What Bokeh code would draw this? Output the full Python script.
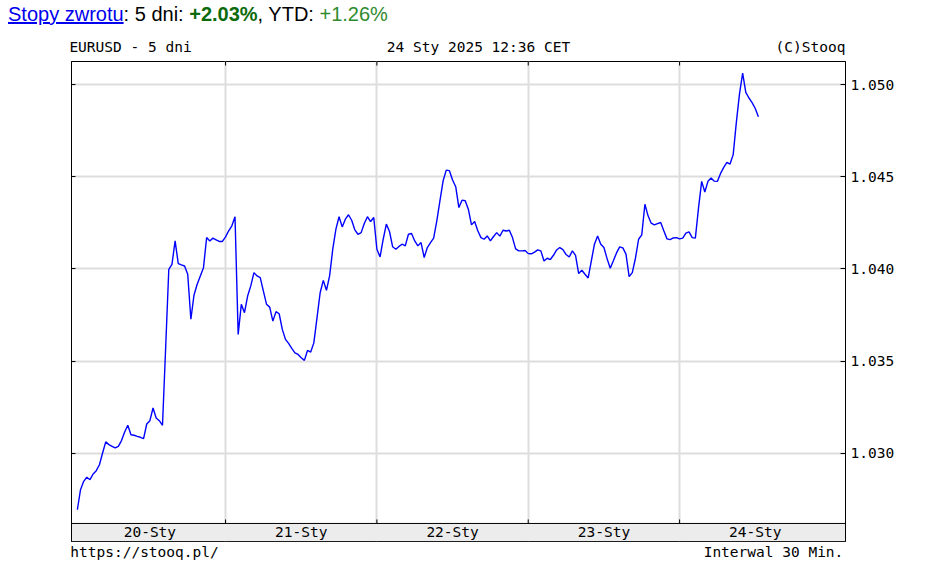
import numpy as np
from bokeh.plotting import figure
from bokeh.layouts import column
from bokeh.models import (Range1d, FixedTicker, LinearAxis, Div,
                          CustomJSTickFormatter, PrintfTickFormatter)
from bokeh.core.properties import value
from bokeh.embed import file_html
from bokeh.resources import INLINE

# ---------------- data ----------------
day_labels = ["20-Sty", "21-Sty", "22-Sty", "23-Sty", "24-Sty"]
day_bounds = [24, 48, 72, 96]          # hours since 20-Sty 00:00
day_centers = [12, 36, 60, 84, 108]
y_ticks = [1.030, 1.035, 1.040, 1.045, 1.050]
top_captions = ["EURUSD - 5 dni", "24 Sty 2025 12:36 CET", "(C)Stooq"]
bottom_captions = ["https://stooq.pl/", "Interwal 30 Min."]

# EURUSD, 30-minute closes, from 20-Sty 00:30 to 24-Sty 12:30
eurusd = [
    1.02694, 1.02803, 1.02848, 1.02870, 1.02857, 1.02888, 1.02906, 1.02938, 1.03002, 1.03062,
    1.03047, 1.03038, 1.03029, 1.03038, 1.03069, 1.03116, 1.03152, 1.03101, 1.03098, 1.03092,
    1.03087, 1.03080, 1.03159, 1.03177, 1.03246, 1.03192, 1.03177, 1.03152, 1.03573, 1.03998,
    1.04025, 1.04152, 1.04029, 1.04022, 1.04016, 1.03971, 1.03727, 1.03859, 1.03917, 1.03962,
    1.04007, 1.04170, 1.04152, 1.04167, 1.04158, 1.04149, 1.04149, 1.04174, 1.04207, 1.04234,
    1.04283, 1.03645, 1.03808, 1.03763, 1.03853, 1.03908, 1.03980, 1.03962, 1.03953,
    1.03880, 1.03808, 1.03793, 1.03717, 1.03768, 1.03757, 1.03672, 1.03618, 1.03596, 1.03569,
    1.03545, 1.03536, 1.03518, 1.03504, 1.03558, 1.03549, 1.03599, 1.03735, 1.03871, 1.03938,
    1.03884, 1.03962, 1.04107, 1.04216, 1.04283, 1.04228, 1.04270, 1.04294, 1.04264, 1.04212,
    1.04188, 1.04197, 1.04246, 1.04283, 1.04257, 1.04279, 1.04107, 1.04065, 1.04161, 1.04243,
    1.04203, 1.04120, 1.04107, 1.04122, 1.04134, 1.04125, 1.04188, 1.04192, 1.04152, 1.04125,
    1.04143, 1.04062, 1.04116, 1.04143, 1.04167, 1.04261, 1.04370, 1.04478, 1.04536, 1.04533,
    1.04482, 1.04446, 1.04333, 1.04373, 1.04370, 1.04324, 1.04239, 1.04257, 1.04207, 1.04170,
    1.04161, 1.04179, 1.04152, 1.04176, 1.04197, 1.04178, 1.04210, 1.04206, 1.04210, 1.04170,
    1.04109, 1.04098, 1.04098, 1.04100, 1.04083, 1.04082, 1.04091, 1.04103, 1.04098, 1.04043,
    1.04058, 1.04051, 1.04074, 1.04103, 1.04116, 1.04105, 1.04078, 1.04065, 1.04098, 1.04074,
    1.03975, 1.03993, 1.03971, 1.03951, 1.04043, 1.04134, 1.04178, 1.04134, 1.04116, 1.04056,
    1.04004, 1.04044, 1.04087, 1.04120, 1.04114, 1.04080, 1.03958, 1.03980, 1.04058, 1.04161,
    1.04185, 1.04351, 1.04288, 1.04248, 1.04239, 1.04246, 1.04252, 1.04207, 1.04163, 1.04159,
    1.04168, 1.04170, 1.04163, 1.04167, 1.04194, 1.04201, 1.04170, 1.04167,
    1.04330, 1.04475, 1.04417, 1.04475, 1.04493, 1.04476, 1.04475, 1.04518, 1.04551, 1.04578,
    1.04569, 1.04620, 1.04795, 1.04949, 1.05062, 1.04958, 1.04927, 1.04902, 1.04870, 1.04826,
]
hours = (np.arange(len(eurusd)) + 1) * 0.5

# ---------------- layout constants ----------------
FONT = "DejaVu Sans Mono"
FS = "14.5px"
X0, X1 = -0.43, 122.31
FRAME_W = 774
PX_PER_HOUR = FRAME_W / (X1 - X0)
PX_PER_UNIT = 18400.0            # vertical pixels per 1.0 of price
Y1 = 1.05125
FRAME_H = 479
Y0 = Y1 - FRAME_H / PX_PER_UNIT
BAND_PX = 18
band_top = Y0 + BAND_PX / PX_PER_UNIT
band_mid = Y0 + (BAND_PX / 2) / PX_PER_UNIT


def px_to_x(px):                 # pixel offset from frame left -> hours
    return X0 + px / PX_PER_HOUR


# caption centres, pixel offsets from the frame's left edge
top_caption_x = [px_to_x(v) for v in (59, 407, 739)]
bottom_caption_x = [px_to_x(v) for v in (73, 702)]

p = figure(width=914, height=532, x_range=Range1d(X0, X1), y_range=Range1d(Y0, Y1),
           output_backend="svg", toolbar_location=None,
           x_axis_location="above", y_axis_location="right",
           min_border_left=63, min_border_right=77, min_border_top=31, min_border_bottom=19,
           background_fill_color="white", border_fill_color="white",
           margin=(0, 0, 0, 8))
p.outline_line_color = "black"
p.outline_line_width = 1

empty = CustomJSTickFormatter(code="return ''")


def caption_axis(axis, xs, texts, standoff):
    axis.ticker = FixedTicker(ticks=xs)
    axis.formatter = CustomJSTickFormatter(args=dict(labels=texts), code="return labels[index]")
    axis.major_tick_line_color = None
    axis.minor_tick_line_color = None
    axis.axis_line_color = None
    axis.major_tick_in = 0
    axis.major_tick_out = 0
    axis.major_label_standoff = standoff
    axis.major_label_text_font = FONT
    axis.major_label_text_font_size = FS
    axis.major_label_text_color = "black"


# top axis carries the captions above the frame
caption_axis(p.xaxis[0], top_caption_x, top_captions, 7)
# bottom axis carries the captions below the frame
bottom_axis = LinearAxis()
caption_axis(bottom_axis, bottom_caption_x, bottom_captions, 2)
p.add_layout(bottom_axis, "below")

# vertical grid at day boundaries
p.xgrid.ticker = FixedTicker(ticks=day_bounds)
p.xgrid.grid_line_color = "#dddddd"
p.xgrid.grid_line_width = 2
p.ygrid.grid_line_color = "#dddddd"
p.ygrid.grid_line_width = 2

# right axis: price
ya = p.yaxis[0]
ya.ticker = FixedTicker(ticks=y_ticks)
ya.formatter = PrintfTickFormatter(format="%.3f")
ya.major_tick_in = 5
ya.major_tick_out = 0
ya.minor_tick_line_color = None
ya.axis_line_color = "black"
ya.major_label_standoff = 5
ya.major_label_text_font = FONT
ya.major_label_text_font_size = FS
ya.major_label_text_color = "black"

# left axis: ticks only
la = LinearAxis(ticker=FixedTicker(ticks=y_ticks), formatter=empty,
                major_tick_in=4, major_tick_out=0, minor_tick_line_color=None,
                axis_line_color="black", major_tick_line_color="black")
p.add_layout(la, "left")
p.ygrid.ticker = FixedTicker(ticks=y_ticks)

# price line
p.line(hours, eurusd, line_color="#0000ff", line_width=1.4)

# bottom date band
p.quad(left=[X0], right=[X1], bottom=[Y0], top=[band_top],
       fill_color="#ececec", line_color="black", line_width=1)
nb = len(day_bounds)
# inward ticks at day boundaries (band top and frame top)
p.segment(x0=day_bounds, y0=[band_top] * nb, x1=day_bounds,
          y1=[band_top + 4 / PX_PER_UNIT] * nb, line_color="black", line_width=1)
p.segment(x0=day_bounds, y0=[Y1] * nb, x1=day_bounds,
          y1=[Y1 - 4 / PX_PER_UNIT] * nb, line_color="black", line_width=1)
p.text(x=day_centers, y=[band_mid] * len(day_centers), text=day_labels,
       text_font=value(FONT), text_font_size=FS, text_align="center",
       text_baseline="middle", text_color="black")

header = Div(text=(
    "<div style=\"font-family:'Liberation Sans',Arial,sans-serif;font-size:20px;"
    "line-height:29.5px;white-space:nowrap;color:#000\">"
    "<a href='#' style='color:#0000ee;text-decoration:underline'>Stopy zwrotu</a>: 5 dni: "
    "<b style='color:#0b6b0b'>+2.03%</b>, YTD: <span style='color:#2e8b2e'>+1.26%</span></div>"),
    width=914, height=30, margin=(0, 0, 0, 8))

layout = column(header, p, spacing=0, margin=(0, 0, 0, 0))

open("out.html", "w").write(file_html(layout, INLINE))
